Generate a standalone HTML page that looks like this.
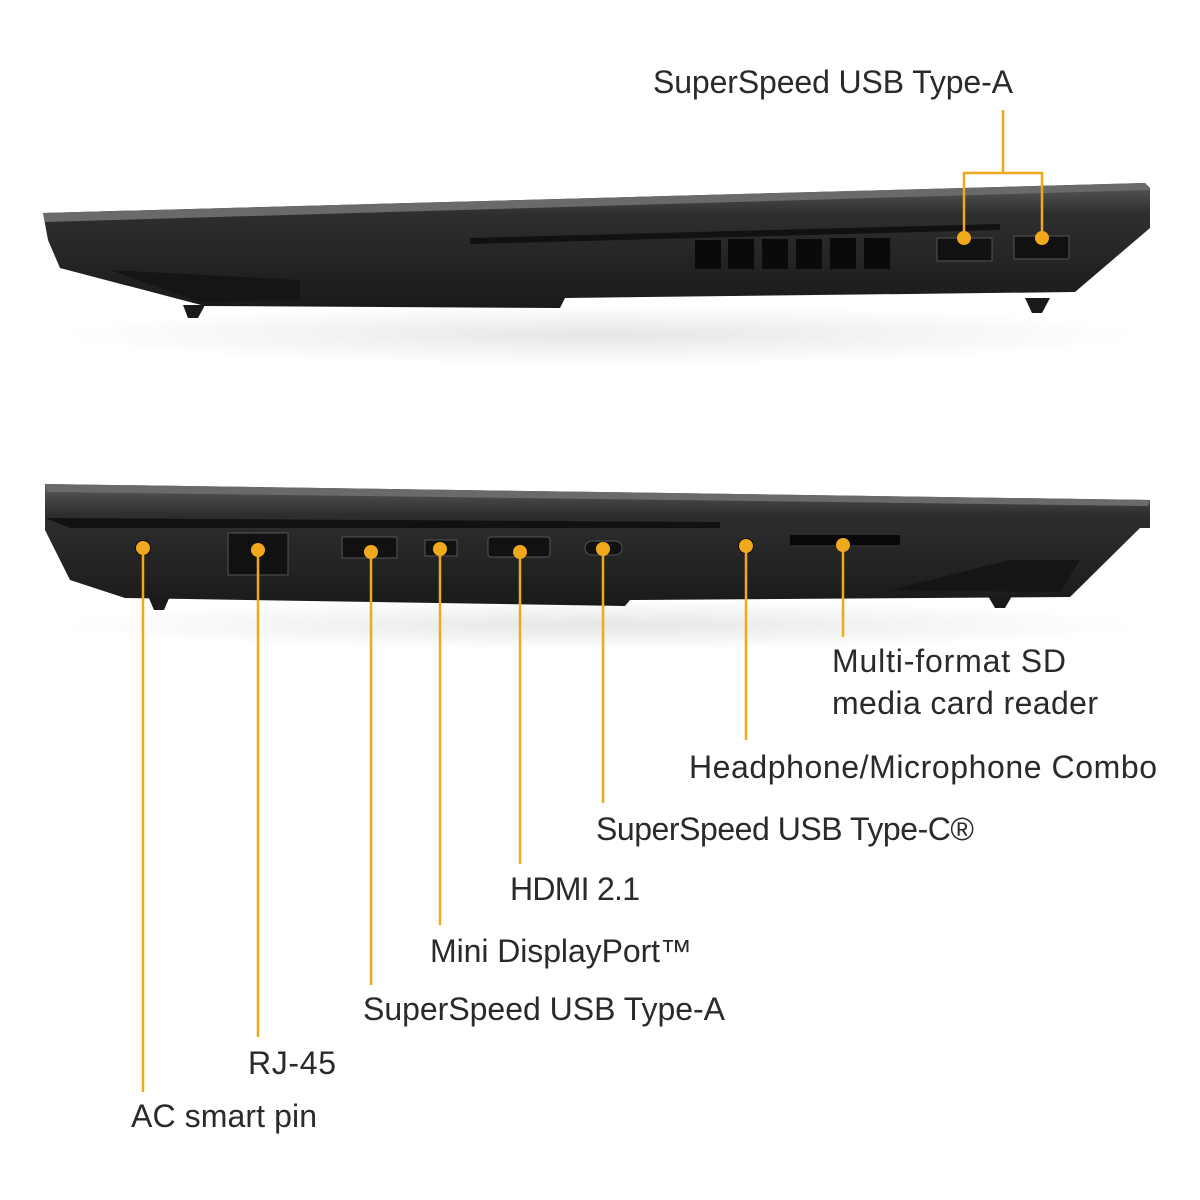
<!DOCTYPE html>
<html><head><meta charset="utf-8"><style>
html,body{margin:0;padding:0;background:#fff;width:1200px;height:1200px;overflow:hidden}
text{font-family:"Liberation Sans",sans-serif;font-size:32px;fill:#2a2a2a}
</style></head><body>
<svg width="1200" height="1200" viewBox="0 0 1200 1200" xmlns="http://www.w3.org/2000/svg">
<defs>
<linearGradient id="g1" x1="0" y1="0" x2="0" y2="1">
<stop offset="0" stop-color="#5a5a5a"/><stop offset="0.25" stop-color="#2e2e2e"/><stop offset="1" stop-color="#1a1a1a"/>
</linearGradient>
<radialGradient id="sh" cx="0.5" cy="0.5" r="0.5"><stop offset="0" stop-color="#e6e6e6"/><stop offset="1" stop-color="#fff"/></radialGradient>
</defs>
<!-- shadows -->
<ellipse cx="600" cy="335" rx="540" ry="30" fill="url(#sh)"/>
<ellipse cx="600" cy="625" rx="540" ry="25" fill="url(#sh)"/>

<!-- TOP LAPTOP -->
<polygon points="43,213 1145,183 1150,188 1150,228 1075,292 565,298 560,308 205,306 60,268 48,240" fill="url(#g1)"/>
<polygon points="43,213 1145,183 1150,190 45,222" fill="#6a6a6a"/>
<polygon points="470,238 1000,224 1000,230 470,244" fill="#111"/>
<polygon points="110,270 300,280 300,300 200,302" fill="#151515"/>
<g fill="#0a0a0a">
<rect x="695" y="240" width="26" height="29"/><rect x="728" y="239" width="26" height="30"/>
<rect x="762" y="239" width="26" height="30"/><rect x="796" y="239" width="26" height="30"/>
<rect x="830" y="238" width="26" height="31"/><rect x="864" y="238" width="26" height="31"/>
</g>
<rect x="937" y="238" width="55" height="23" fill="#111" stroke="#555"/>
<rect x="1014" y="236" width="55" height="23" fill="#111" stroke="#555"/>
<path d="M183,305 L205,305 L198,318 L188,318Z" fill="#1a1a1a"/>
<path d="M1025,298 L1050,298 L1042,313 L1032,313Z" fill="#1a1a1a"/>
<g stroke="#f0a81c" stroke-width="2.5" fill="none">
<path d="M964,238 V173 H1042 V238"/><path d="M1003,110 V173"/>
</g>
<circle cx="964" cy="238" r="7" fill="#f0a81c"/><circle cx="1042" cy="238" r="7" fill="#f0a81c"/>
<text x="653" y="93" textLength="360">SuperSpeed USB Type-A</text>

<!-- BOTTOM LAPTOP -->
<polygon points="45,484 1150,500 1150,528 1140,528 1070,597 630,600 625,606 125,598 70,580 45,530" fill="url(#g1)"/>
<polygon points="45,484 1150,500 1148,506 47,492" fill="#6a6a6a"/>
<polygon points="45,518 720,522 720,528 70,528" fill="#111"/>
<polygon points="890,590 1010,560 1080,560 1060,592" fill="#151515"/>
<rect x="228" y="533" width="60" height="42" fill="#111" stroke="#555"/>
<rect x="342" y="537" width="55" height="21" fill="#111" stroke="#555"/>
<rect x="425" y="540" width="32" height="16" fill="#111" stroke="#555"/>
<rect x="488" y="537" width="62" height="20" rx="3" fill="#111" stroke="#555"/>
<rect x="585" y="541" width="37" height="14" rx="7" fill="#111" stroke="#555"/>
<rect x="790" y="535" width="110" height="10" fill="#080808"/>
<circle cx="143" cy="548" r="8" fill="#0a0a0a"/><circle cx="746" cy="546" r="8" fill="#0a0a0a"/>
<path d="M148,596 L170,596 L164,610 L154,610Z" fill="#1a1a1a"/>
<path d="M988,596 L1012,596 L1005,608 L995,608Z" fill="#1a1a1a"/>
<g stroke="#f0a81c" stroke-width="2.5">
<line x1="143" y1="548" x2="143" y2="1092"/><line x1="258" y1="550" x2="258" y2="1037"/>
<line x1="371" y1="552" x2="371" y2="985"/><line x1="440" y1="549" x2="440" y2="925"/>
<line x1="520" y1="552" x2="520" y2="864"/><line x1="603" y1="549" x2="603" y2="803"/>
<line x1="746" y1="546" x2="746" y2="740"/><line x1="843" y1="545" x2="843" y2="637"/>
</g>
<g fill="#f0a81c">
<circle cx="143" cy="548" r="7"/><circle cx="258" cy="550" r="7"/><circle cx="371" cy="552" r="7"/>
<circle cx="440" cy="549" r="7"/><circle cx="520" cy="552" r="7"/><circle cx="603" cy="549" r="7"/>
<circle cx="746" cy="546" r="7"/><circle cx="843" cy="545" r="7"/>
</g>
<text x="832" y="672" textLength="234">Multi-format SD</text>
<text x="832" y="714" textLength="266">media card reader</text>
<text x="689" y="778" textLength="468">Headphone/Microphone Combo</text>
<text x="596" y="840" textLength="378">SuperSpeed USB Type-C®</text>
<text x="510" y="900" textLength="130">HDMI 2.1</text>
<text x="430" y="962" textLength="262">Mini DisplayPort™</text>
<text x="363" y="1020" textLength="362">SuperSpeed USB Type-A</text>
<text x="248" y="1074" textLength="88">RJ-45</text>
<text x="131" y="1127" textLength="186">AC smart pin</text>
</svg>
</body></html>
